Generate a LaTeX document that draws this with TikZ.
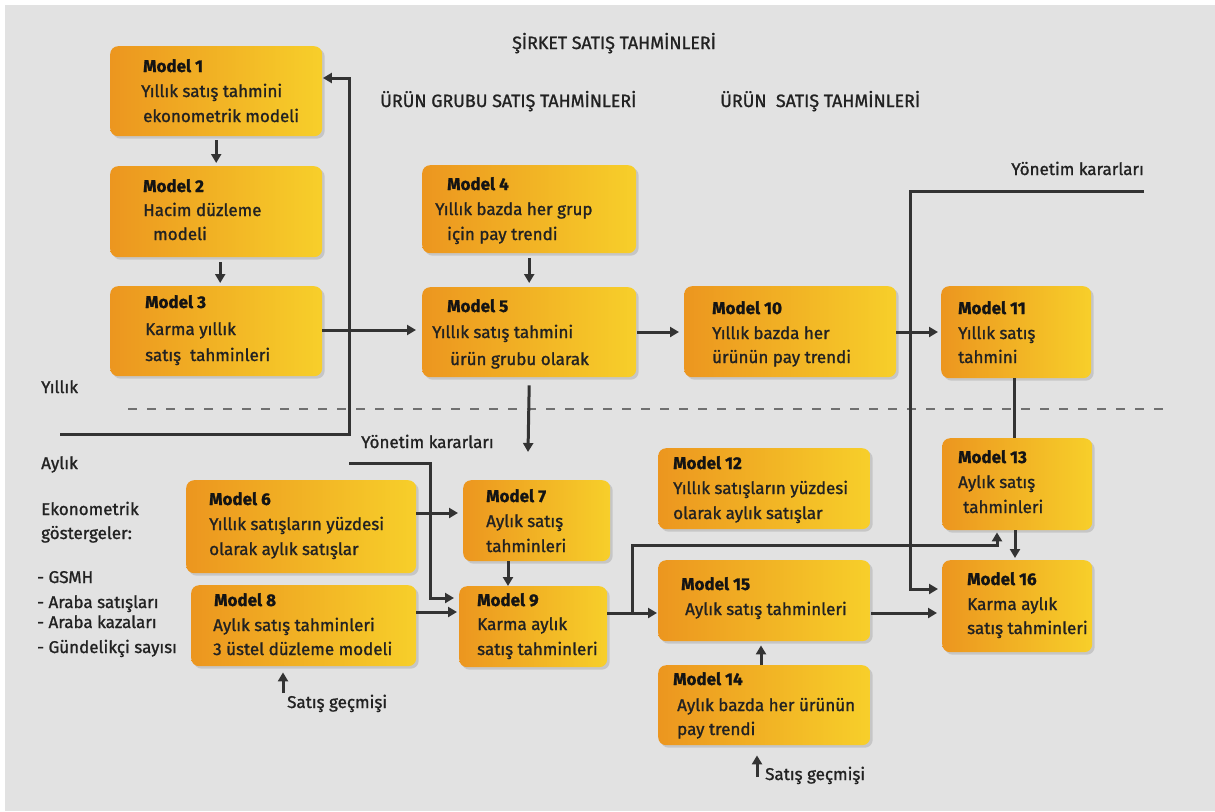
\documentclass[tikz,border=0pt]{standalone}
\usepackage{fontspec}
\setmainfont{Fira Sans}[FakeBold=1.2]
\usetikzlibrary{arrows.meta,shadows,calc}
\definecolor{bg}{HTML}{E2E2E2}
\definecolor{boxL}{HTML}{EC961F}
\definecolor{boxR}{HTML}{F7CF2A}
\definecolor{ink}{HTML}{333333}
\definecolor{txtc}{HTML}{222222}
\definecolor{dashc}{HTML}{707070}

% box: name, x, y (top left), width, height
\newcommand{\modelbox}[5]{%
  \node[mbox, anchor=north west, minimum width=#4pt, minimum height=#5pt] (#1) at (#2,#3) {};}
% one line of text: name, x, baseline y, text
\newcommand{\tline}[4]{\node[txt, anchor=base west] (#1) at (#2,#3) {#4};}
\newcommand{\tttl}[4]{\node[ttl, anchor=base west] (#1) at (#2,#3) {#4};}

\begin{document}
\begin{tikzpicture}[x=1pt,y=-1pt,
  mbox/.style={rounded corners=8pt, left color=boxL, right color=boxR,
    draw=none, inner sep=0pt,
    drop shadow={shadow xshift=2.5pt, shadow yshift=-2.5pt, fill=black, opacity=0.12}},
  txt/.style={font=\fontsize{17}{25}\selectfont, text=txtc, inner sep=0pt},
  ttl/.style={font=\fontsize{17}{25}\selectfont\bfseries, text=black!92, inner sep=0pt},
  hdr/.style={font=\fontsize{17.8}{20}\selectfont, text=txtc, inner sep=0pt},
  conn/.style={draw=ink, line width=3pt},
  arr/.style={conn, -{Triangle[length=9pt,width=10pt]}},
  divider/.style={draw=dashc, line width=2pt, dash pattern=on 9pt off 10pt}]

\useasboundingbox (0,0) rectangle (1215,811);
\fill[white] (0,0) rectangle (1215,811);
\fill[bg] (5,5) rectangle (1215,811);

% yearly / monthly divider
\draw[divider] (128,409) -- (1172,409);

% boxes
\modelbox{m1}{110}{46}{212}{90}
\modelbox{m2}{110}{166}{212}{91}
\modelbox{m3}{110}{286}{212}{90}
\modelbox{m4}{422}{165}{214}{88}
\modelbox{m5}{422}{287}{214}{90}
\modelbox{m10}{684}{286}{212}{91}
\modelbox{m11}{941}{286}{150}{92}
\modelbox{m6}{186}{480}{230}{93}
\modelbox{m8}{191}{585}{225}{81}
\modelbox{m7}{463}{480}{147}{81}
\modelbox{m9}{459}{586}{148}{81}
\modelbox{m12}{658}{448}{212}{81}
\modelbox{m13}{942}{438}{150}{92}
\modelbox{m15}{658}{560}{212}{81}
\modelbox{m16}{942}{560}{150}{92}
\modelbox{m14}{658}{665}{212}{80}

% box texts
\tttl{m1a}{143}{72}{Model 1}
\tline{m1b}{141}{97}{Yıllık satış tahmini}
\tline{m1c}{143}{122}{ekonometrik modeli}

\tttl{m2a}{143}{192}{Model 2}
\tline{m2b}{143}{216}{Hacim düzleme}
\tline{m2c}{153}{240}{modeli}

\tttl{m3a}{145}{308}{Model 3}
\tline{m3b}{145}{335}{Karma yıllık}
\tline{m3c}{145}{361}{satış\ \ tahminleri}

\tttl{m4a}{447}{190}{Model 4}
\tline{m4b}{435}{215}{Yıllık bazda her grup}
\tline{m4c}{447}{240}{için pay trendi}

\tttl{m5a}{447}{312}{Model 5}
\tline{m5b}{432}{338}{Yıllık satış tahmini}
\tline{m5c}{450}{365}{ürün grubu olarak}

\tttl{m10a}{712}{314}{Model 10}
\tline{m10b}{712}{339}{Yıllık bazda her}
\tline{m10c}{712}{363}{ürünün pay trendi}

\tttl{m11a}{958}{314}{Model 11}
\tline{m11b}{958}{339}{Yıllık satış}
\tline{m11c}{958}{363}{tahmini}

\tttl{m6a}{209}{505}{Model 6}
\tline{m6b}{209}{530}{Yıllık satışların yüzdesi}
\tline{m6c}{209}{555}{olarak aylık satışlar}

\tttl{m8a}{214}{606}{Model 8}
\tline{m8b}{213}{631}{Aylık satış tahminleri}
\tline{m8c}{213}{655}{3 üstel düzleme modeli}

\tttl{m7a}{486}{502}{Model 7}
\tline{m7b}{486}{527}{Aylık satış}
\tline{m7c}{486}{552}{tahminleri}

\tttl{m9a}{477}{606}{Model 9}
\tline{m9b}{477}{630}{Karma aylık}
\tline{m9c}{477}{655}{satış tahminleri}

\tttl{m12a}{673}{469}{Model 12}
\tline{m12b}{673}{494}{Yıllık satışların yüzdesi}
\tline{m12c}{673}{519}{olarak aylık satışlar}

\tttl{m13a}{958}{463}{Model 13}
\tline{m13b}{958}{488}{Aylık satış}
\tline{m13c}{963}{513}{tahminleri}

\tttl{m15a}{681}{590}{Model 15}
\tline{m15b}{685}{615}{Aylık satış tahminleri}

\tttl{m16a}{967}{585}{Model 16}
\tline{m16b}{967}{610}{Karma aylık}
\tline{m16c}{967}{634}{satış tahminleri}

\tttl{m14a}{673}{685}{Model 14}
\tline{m14b}{677}{711}{Aylık bazda her ürünün}
\tline{m14c}{677}{735}{pay trendi}

% headings and side labels
\node[hdr, anchor=base west] (h1) at (512,49) {ŞİRKET SATIŞ TAHMİNLERİ};
\node[hdr, anchor=base west] (h2) at (380,107) {ÜRÜN GRUBU SATIŞ TAHMİNLERİ};
\node[hdr, anchor=base west] (h3) at (720,107) {ÜRÜN\ \ SATIŞ TAHMİNLERİ};
\node[txt, anchor=base east] (yk1t) at (1144,175) {Yönetim kararları};
\node[txt, anchor=base west] (yk2t) at (361,448) {Yönetim kararları};
\tline{lyil}{41}{393}{Yıllık}
\tline{lay}{41}{469}{Aylık}
\tline{leko}{41}{515}{Ekonometrik}
\tline{lgos}{41}{539}{göstergeler:}
\tline{lg1}{37}{583}{- GSMH}
\tline{lg2}{37}{608}{- Araba satışları}
\tline{lg3}{37}{628}{- Araba kazaları}
\tline{lg4}{37}{653}{- Gündelikçi sayısı}
\tline{sg1t}{287}{708}{Satış geçmişi}
\tline{sg2t}{765}{780}{Satış geçmişi}

% free ends and bends
\coordinate (fbL) at (60,434);
\coordinate (fbC) at (349,78);
\coordinate (k5) at (528,452);
\coordinate (yk1) at (1144,191);
\coordinate (yk1c) at (910,589);
\coordinate (yk2) at (349,463);
\coordinate (yk2c) at (430,598);
\coordinate (br) at (632,613);
\coordinate (brc) at (997,545);
\coordinate (sg1) at (283,693);
\coordinate (sg2) at (757,777);

% yearly chain
\draw[arr, shorten <=4pt, shorten >=3pt] (m1.south) -- (m2.north);
\draw[arr, shorten <=5pt, shorten >=3pt] ([xshift=4pt]m2.south) -- ([xshift=4pt]m2.south |- m3.north);
\draw[arr, shorten >=0.5pt] (fbL) -| (fbC) -- (fbC -| m1.east);
\draw[arr, shorten >=6pt] (m3.east |- 0,330) -- (m5.west |- 0,330);
\draw[arr, shorten <=5pt, shorten >=4pt] (m4.south) -- (m5.north);
\draw[arr] ($(m5.south)+(0,8)$) -- (k5);
\draw[arr, shorten <=1pt, shorten >=5pt] (m5.east |- 0,332) -- (m10.west |- 0,332);
\draw[arr, shorten >=3pt] (m10.east |- 0,332) -- (m11.west |- 0,332);
\draw[conn] (m11.south -| 1014,0) -- (m13.north -| 1014,0);

% management decisions
\draw[arr, shorten >=4pt] (yk1) -| (yk1c) -- (yk1c -| m16.west);
\draw[arr, shorten >=5pt] (yk2) -| (yk2c) -- (yk2c -| m9.west);

% monthly chain
\draw[arr, shorten >=5pt] (m6.east |- 0,513) -- (m7.west |- 0,513);
\draw[arr, shorten >=2pt] (m8.east |- 0,612) -- (m9.west |- 0,612);
\draw[arr] (m7.south -| 508,0) -- (m9.north -| 508,0);
\draw[arr, shorten >=1pt] (m9.east |- 0,613) -- (m15.west |- 0,613);
\draw[arr, shorten >=2pt] (br) |- (brc) -- (brc |- m13.south);
\draw[arr, shorten <=1pt, shorten >=5pt] (m15.east |- 0,613) -- (m16.west |- 0,613);
\draw[arr, shorten >=2pt] (m13.south -| 1015,0) -- (m16.north -| 1015,0);
\draw[arr, shorten >=4pt] (m14.north -| 761,0) -- (m15.south -| 761,0);
\draw[arr, shorten >=6pt] (sg1) -- (sg1 |- m8.south);
\draw[arr, shorten >=10pt] (sg2) -- (sg2 |- m14.south);

\end{tikzpicture}
\end{document}
